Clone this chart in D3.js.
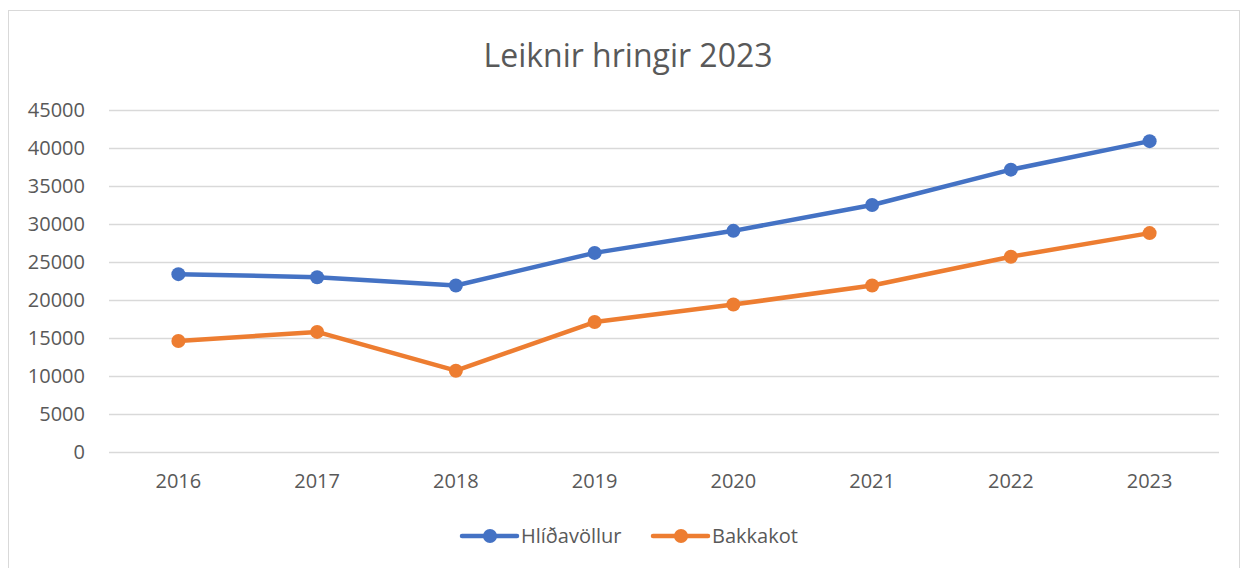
<!DOCTYPE html>
<html>
<head>
<meta charset="utf-8">
<script src="https://cdn.jsdelivr.net/npm/d3@7"></script>
<style>
  body { margin: 0; background: #fff; }
  svg, svg text { font-family: "Open Sans", "Noto Sans", sans-serif; }
</style>
</head>
<body>
<div id="chart"></div>
<script>
var years = ["2016", "2017", "2018", "2019", "2020", "2021", "2022", "2023"];
var hlidavollur = [23400, 23000, 21900, 26200, 29100, 32500, 37150, 40900];
var bakkakot = [14600, 15800, 10700, 17100, 19400, 21900, 25700, 28800];
var yTicks = [0, 5000, 10000, 15000, 20000, 25000, 30000, 35000, 40000, 45000];
var seriesNames = ["Hlíðavöllur", "Bakkakot"];
var colors = ["#4472C4", "#ED7D31"];

const W = 1248, H = 568;
const margin = {top: 110, right: 29, bottom: 116, left: 109},
      width = W - margin.left - margin.right,
      height = H - margin.top - margin.bottom;

var root = d3.select("#chart")
  .append("svg")
  .attr("width", W)
  .attr("height", H);

root.append("rect")
  .attr("x", 8.5).attr("y", 10.5)
  .attr("width", 1231).attr("height", 580)
  .attr("fill", "#fff")
  .attr("stroke", "#d9d9d9");

root.append("text")
  .attr("x", 628).attr("y", 67)
  .attr("text-anchor", "middle")
  .attr("fill", "#595959")
  .style("font-size", "32px")
  .text("Leiknir hringir 2023");

var svg = root.append("g")
  .attr("transform", "translate(" + margin.left + "," + margin.top + ")");

var x = d3.scaleBand().domain(years).range([0, width]);
var y = d3.scaleLinear().domain([0, 45000]).range([height, 0]);

svg.selectAll(".grid")
  .data(yTicks)
  .enter()
  .append("line")
  .attr("class", "grid")
  .attr("x1", 0).attr("x2", width)
  .attr("y1", function(d) {return Math.round(y(d)) + 0.5;})
  .attr("y2", function(d) {return Math.round(y(d)) + 0.5;})
  .attr("stroke", "#d9d9d9")
  .attr("stroke-width", 1.3);

var yAxis = d3.axisLeft(y).tickValues(yTicks).tickSize(0).tickPadding(24).tickFormat(d3.format("d"));
svg.append("g")
  .attr("class", "axis-y")
  .call(yAxis)
  .attr("font-family", null)
  .call(function(g) {g.select(".domain").remove();})
  .selectAll("text")
  .attr("fill", "#595959")
  .style("font-size", "20px");

var xAxis = d3.axisBottom(x).tickSize(0).tickPadding(22);
svg.append("g")
  .attr("transform", "translate(0," + height + ")")
  .call(xAxis)
  .attr("font-family", null)
  .call(function(g) {g.select(".domain").remove();})
  .selectAll("text")
  .attr("fill", "#595959")
  .style("font-size", "20px");

var line = d3.line()
  .x(function(d, i) {return x(years[i]) + x.bandwidth() / 2;})
  .y(function(d) {return y(d);});

[hlidavollur, bakkakot].forEach(function(data, k) {
  svg.append("path")
    .datum(data)
    .attr("d", line)
    .attr("fill", "none")
    .attr("stroke", colors[k])
    .attr("stroke-width", 4.5)
    .attr("stroke-linejoin", "round")
    .attr("stroke-linecap", "round");
  svg.selectAll(".dot" + k)
    .data(data)
    .enter()
    .append("circle")
    .attr("cx", function(d, i) {return x(years[i]) + x.bandwidth() / 2;})
    .attr("cy", function(d) {return y(d);})
    .attr("r", 7)
    .attr("fill", colors[k]);
});

var legendX = [462, 653];
var legend = root.selectAll(".legend")
  .data(seriesNames)
  .enter()
  .append("g")
  .attr("transform", function(d, i) {return "translate(" + legendX[i] + ",536)";});
legend.append("line")
  .attr("x1", 0).attr("x2", 55)
  .attr("stroke", function(d, i) {return colors[i];})
  .attr("stroke-width", 4.5)
  .attr("stroke-linecap", "round");
legend.append("circle")
  .attr("cx", 28).attr("r", 7)
  .attr("fill", function(d, i) {return colors[i];});
legend.append("text")
  .attr("x", 59).attr("dy", "0.35em")
  .attr("fill", "#595959")
  .style("font-size", "20px")
  .text(function(d) {return d;});
</script>
</body>
</html>
